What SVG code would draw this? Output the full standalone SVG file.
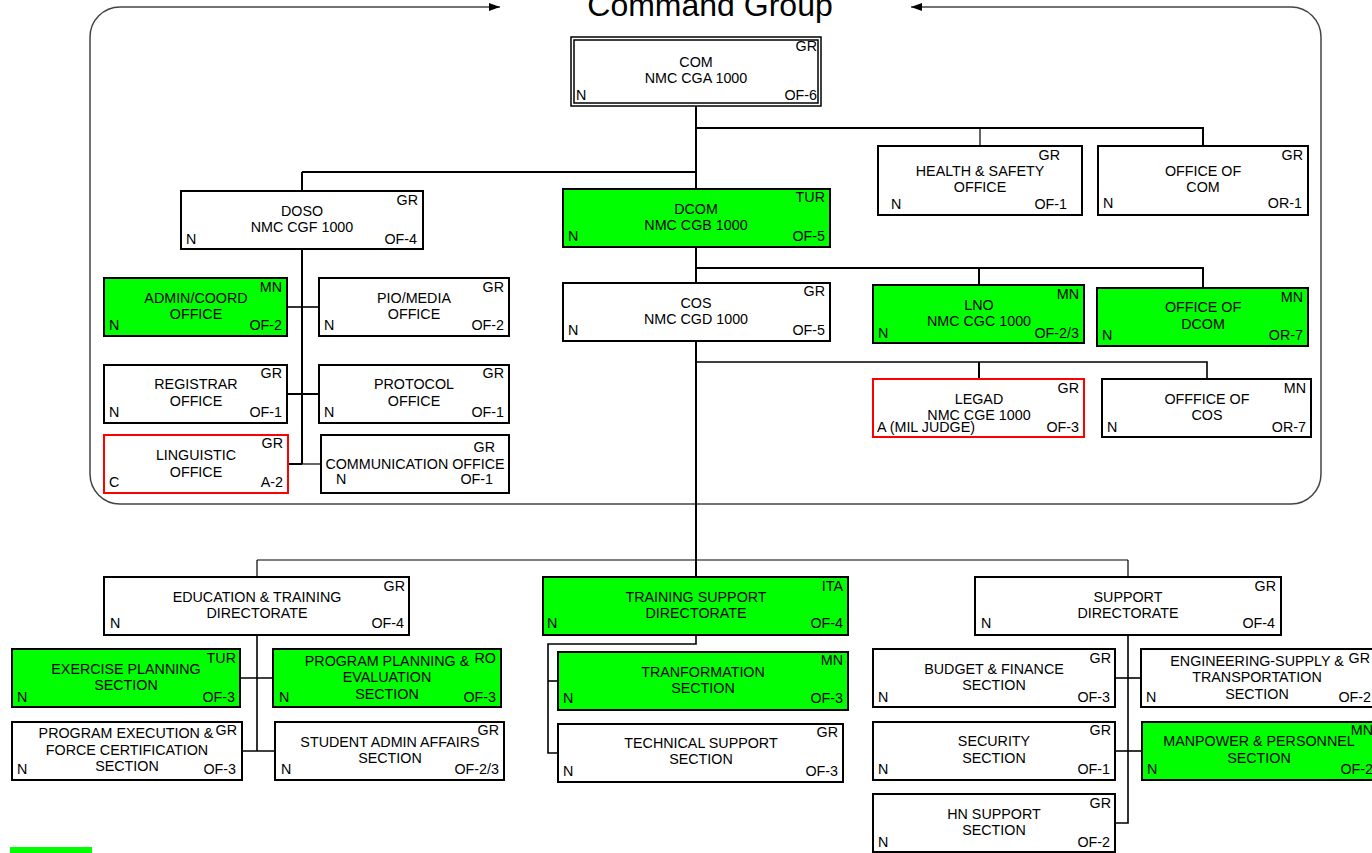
<svg xmlns="http://www.w3.org/2000/svg" width="1372" height="853" viewBox="0 0 1372 853">
<style>
  text { font-family: "Liberation Sans", Arial, Helvetica, sans-serif; font-size: 14.3px; fill: #000; }
  .c { text-anchor: middle; }
  .e { text-anchor: end; }
  .title { font-size: 32px; text-anchor: middle; }
  .box { fill: #fff; stroke: #000; stroke-width: 2; }
  .grn { fill: #00ff00; }
  .red { stroke: #ff0000; }
  .ln { fill: none; stroke: #000; stroke-width: 2; }
  .thin { stroke-width: 1.2; }
  .mid { stroke-width: 1.6; }
  .frame { fill: none; stroke: #444; stroke-width: 1.5; }
</style>
<defs>
  <marker id="arrow" markerUnits="userSpaceOnUse" markerWidth="12" markerHeight="10" refX="11" refY="4" orient="auto-start-reverse">
    <path d="M0,0 L11,4 L0,8 Z" fill="#000"/>
  </marker>
</defs>
<rect width="1372" height="853" fill="#fff"/>

<!-- Command Group frame with title arrows -->
<g id="command-group-frame">
  <path class="frame" d="M500,7 H120 A30,30 0 0 0 90,37 V474 A30,30 0 0 0 120,504 H1291 A30,30 0 0 0 1321,474 V37 A30,30 0 0 0 1291,7 H911" marker-start="url(#arrow)" marker-end="url(#arrow)"/>
  <text class="title" x="710" y="16">Command Group</text>
</g>

<!-- connectors -->
<g id="connectors">
  <path class="ln" d="M696,106 V189"/>
  <path class="ln" d="M302,172 H696"/>
  <path class="ln" d="M302,172 V191"/>
  <path class="ln" d="M696,128 H1203 V146"/>
  <path class="ln thin" d="M980,128 V146"/>
  <path class="ln" d="M696,247 V283"/>
  <path class="ln" d="M696,268 H1203 V288"/>
  <path class="ln" d="M979,268 V285"/>
  <path class="ln" d="M696,341 V577"/>
  <path class="ln mid" d="M696,362 H1207 V379"/>
  <path class="ln" d="M979,362 V379"/>
  <path class="ln" d="M302,249 V464"/>
  <path class="ln mid" d="M287,307 H319"/>
  <path class="ln" d="M287,394 H319"/>
  <path class="ln" d="M288,464 H302"/>
  <path class="ln thin" d="M302,464 H321"/>
  <path class="ln thin" d="M257,560 H1128"/>
  <path class="ln thin" d="M257,560 V577"/>
  <path class="ln thin" d="M1128,560 V577"/>
  <path class="ln mid" d="M257,635 V751"/>
  <path class="ln mid" d="M240,678 H273"/>
  <path class="ln mid" d="M242,751 H275"/>
  <path class="ln mid" d="M696,635 V644 H548 V753 H558"/>
  <path class="ln mid" d="M548,681 H558"/>
  <path class="ln mid" d="M1128,635 V823 H1115"/>
  <path class="ln mid" d="M1115,678 H1141"/>
  <path class="ln mid" d="M1115,751 H1142"/>
</g>

<g id="com">
  <rect x="571" y="37" width="250" height="69" fill="#fff" stroke="#000" stroke-width="1.5"/>
  <rect x="574" y="40" width="244" height="63" fill="none" stroke="#000" stroke-width="1.5"/>
  <text class="e" x="817" y="51">GR</text>
  <text class="c" x="696" y="67">COM</text>
  <text class="c" x="696" y="83">NMC CGA 1000</text>
  <text x="576" y="100">N</text>
  <text class="e" x="817" y="100">OF-6</text>
</g>

<g id="health-safety">
  <rect class="box" x="878" y="146" width="204" height="69"/>
  <text class="e" x="1060" y="160">GR</text>
  <text class="c" x="980" y="176">HEALTH &amp; SAFETY</text>
  <text class="c" x="980" y="192">OFFICE</text>
  <text x="891" y="209">N</text>
  <text class="e" x="1067" y="209">OF-1</text>
</g>

<g id="office-com">
  <rect class="box" x="1098" y="146" width="210" height="69"/>
  <text class="e" x="1303" y="160">GR</text>
  <text class="c" x="1203" y="176">OFFICE OF</text>
  <text class="c" x="1203" y="192">COM</text>
  <text x="1103" y="208">N</text>
  <text class="e" x="1302" y="208">OR-1</text>
</g>

<g id="doso">
  <rect class="box" x="181" y="191" width="242" height="58"/>
  <text class="e" x="418" y="205">GR</text>
  <text class="c" x="302" y="216">DOSO</text>
  <text class="c" x="302" y="232">NMC CGF 1000</text>
  <text x="186" y="244">N</text>
  <text class="e" x="417" y="244">OF-4</text>
</g>

<g id="dcom">
  <rect class="box grn" x="563" y="189" width="267" height="58"/>
  <text class="e" x="825" y="202">TUR</text>
  <text class="c" x="696" y="214">DCOM</text>
  <text class="c" x="696" y="230">NMC CGB 1000</text>
  <text x="568" y="241">N</text>
  <text class="e" x="825" y="241">OF-5</text>
</g>

<g id="cos">
  <rect class="box" x="563" y="283" width="267" height="58"/>
  <text class="e" x="825" y="296">GR</text>
  <text class="c" x="696" y="308">COS</text>
  <text class="c" x="696" y="324">NMC CGD 1000</text>
  <text x="568" y="335">N</text>
  <text class="e" x="825" y="335">OF-5</text>
</g>

<g id="lno">
  <rect class="box grn" x="873" y="285" width="211" height="58"/>
  <text class="e" x="1079" y="299">MN</text>
  <text class="c" x="979" y="310">LNO</text>
  <text class="c" x="979" y="326">NMC CGC 1000</text>
  <text x="878" y="338">N</text>
  <text class="e" x="1079" y="338">OF-2/3</text>
</g>

<g id="office-dcom">
  <rect class="box grn" x="1097" y="288" width="211" height="58"/>
  <text class="e" x="1303" y="302">MN</text>
  <text class="c" x="1203" y="312">OFFICE OF</text>
  <text class="c" x="1203" y="329">DCOM</text>
  <text x="1102" y="340">N</text>
  <text class="e" x="1303" y="340">OR-7</text>
</g>

<g id="legad">
  <rect class="box red" x="873" y="379" width="211" height="58"/>
  <text class="e" x="1079" y="393">GR</text>
  <text class="c" x="979" y="404">LEGAD</text>
  <text class="c" x="979" y="420">NMC CGE 1000</text>
  <text x="877" y="432">A (MIL JUDGE)</text>
  <text class="e" x="1079" y="432">OF-3</text>
</g>

<g id="office-cos">
  <rect class="box" x="1102" y="379" width="209" height="58"/>
  <text class="e" x="1306" y="393">MN</text>
  <text class="c" x="1207" y="404">OFFFICE OF</text>
  <text class="c" x="1207" y="420">COS</text>
  <text x="1107" y="432">N</text>
  <text class="e" x="1306" y="432">OR-7</text>
</g>

<g id="admin-coord">
  <rect class="box grn" x="104" y="278" width="183" height="58"/>
  <text class="e" x="282" y="292">MN</text>
  <text class="c" x="196" y="303">ADMIN/COORD</text>
  <text class="c" x="196" y="319">OFFICE</text>
  <text x="109" y="330">N</text>
  <text class="e" x="282" y="330">OF-2</text>
</g>

<g id="pio-media">
  <rect class="box" x="319" y="278" width="190" height="58"/>
  <text class="e" x="504" y="292">GR</text>
  <text class="c" x="414" y="303">PIO/MEDIA</text>
  <text class="c" x="414" y="319">OFFICE</text>
  <text x="324" y="330">N</text>
  <text class="e" x="504" y="330">OF-2</text>
</g>

<g id="registrar">
  <rect class="box" x="104" y="365" width="183" height="58"/>
  <text class="e" x="282" y="378">GR</text>
  <text class="c" x="196" y="389">REGISTRAR</text>
  <text class="c" x="196" y="406">OFFICE</text>
  <text x="109" y="417">N</text>
  <text class="e" x="282" y="417">OF-1</text>
</g>

<g id="protocol">
  <rect class="box" x="319" y="365" width="190" height="58"/>
  <text class="e" x="504" y="378">GR</text>
  <text class="c" x="414" y="389">PROTOCOL</text>
  <text class="c" x="414" y="406">OFFICE</text>
  <text x="324" y="417">N</text>
  <text class="e" x="504" y="417">OF-1</text>
</g>

<g id="linguistic">
  <rect class="box red" x="104" y="435" width="184" height="58"/>
  <text class="e" x="283" y="448">GR</text>
  <text class="c" x="196" y="460">LINGUISTIC</text>
  <text class="c" x="196" y="477">OFFICE</text>
  <text x="109" y="487">C</text>
  <text class="e" x="283" y="487">A-2</text>
</g>

<g id="communication">
  <rect class="box" x="321" y="435" width="188" height="58"/>
  <text class="e" x="495" y="452">GR</text>
  <text class="c" x="415" y="469">COMMUNICATION OFFICE</text>
  <text x="336" y="484">N</text>
  <text class="e" x="493" y="484">OF-1</text>
</g>

<g id="education-training">
  <rect class="box" x="104" y="577" width="305" height="58"/>
  <text class="e" x="405" y="591">GR</text>
  <text class="c" x="257" y="602">EDUCATION &amp; TRAINING</text>
  <text class="c" x="257" y="618">DIRECTORATE</text>
  <text x="110" y="628">N</text>
  <text class="e" x="404" y="628">OF-4</text>
</g>

<g id="training-support">
  <rect class="box grn" x="543" y="577" width="305" height="58"/>
  <text class="e" x="843" y="591">ITA</text>
  <text class="c" x="696" y="602">TRAINING SUPPORT</text>
  <text class="c" x="696" y="618">DIRECTORATE</text>
  <text x="547" y="628">N</text>
  <text class="e" x="843" y="628">OF-4</text>
</g>

<g id="support">
  <rect class="box" x="975" y="577" width="306" height="58"/>
  <text class="e" x="1276" y="591">GR</text>
  <text class="c" x="1128" y="602">SUPPORT</text>
  <text class="c" x="1128" y="618">DIRECTORATE</text>
  <text x="981" y="628">N</text>
  <text class="e" x="1275" y="628">OF-4</text>
</g>

<g id="exercise-planning">
  <rect class="box grn" x="12" y="649" width="228" height="58"/>
  <text class="e" x="236" y="663">TUR</text>
  <text class="c" x="126" y="674">EXERCISE PLANNING</text>
  <text class="c" x="126" y="690">SECTION</text>
  <text x="17" y="702">N</text>
  <text class="e" x="235" y="702">OF-3</text>
</g>

<g id="program-planning">
  <rect class="box grn" x="273" y="649" width="228" height="58"/>
  <text class="e" x="496" y="663">RO</text>
  <text class="c" x="387" y="666">PROGRAM PLANNING &amp;</text>
  <text class="c" x="387" y="682">EVALUATION</text>
  <text class="c" x="387" y="699">SECTION</text>
  <text x="279" y="702">N</text>
  <text class="e" x="496" y="702">OF-3</text>
</g>

<g id="program-execution">
  <rect class="box" x="12" y="722" width="230" height="58"/>
  <text class="c" x="126" y="738">PROGRAM EXECUTION &amp;</text>
  <text class="e" x="237" y="735">GR</text>
  <text class="c" x="127" y="755">FORCE CERTIFICATION</text>
  <text class="c" x="127" y="771">SECTION</text>
  <text x="17" y="774">N</text>
  <text class="e" x="236" y="774">OF-3</text>
</g>

<g id="student-admin">
  <rect class="box" x="275" y="722" width="229" height="58"/>
  <text class="c" x="390" y="747">STUDENT ADMIN AFFAIRS</text>
  <text class="e" x="499" y="735">GR</text>
  <text class="c" x="390" y="763">SECTION</text>
  <text x="281" y="774">N</text>
  <text class="e" x="499" y="774">OF-2/3</text>
</g>

<g id="tranformation">
  <rect class="box grn" x="558" y="652" width="290" height="58"/>
  <text class="e" x="843" y="665">MN</text>
  <text class="c" x="703" y="677">TRANFORMATION</text>
  <text class="c" x="703" y="693">SECTION</text>
  <text x="563" y="703">N</text>
  <text class="e" x="843" y="703">OF-3</text>
</g>

<g id="technical-support">
  <rect class="box" x="558" y="724" width="285" height="58"/>
  <text class="e" x="838" y="737">GR</text>
  <text class="c" x="701" y="748">TECHNICAL SUPPORT</text>
  <text class="c" x="701" y="764">SECTION</text>
  <text x="563" y="776">N</text>
  <text class="e" x="838" y="776">OF-3</text>
</g>

<g id="budget-finance">
  <rect class="box" x="873" y="649" width="242" height="58"/>
  <text class="e" x="1111" y="663">GR</text>
  <text class="c" x="994" y="674">BUDGET &amp; FINANCE</text>
  <text class="c" x="994" y="690">SECTION</text>
  <text x="878" y="702">N</text>
  <text class="e" x="1110" y="702">OF-3</text>
</g>

<g id="engineering-supply">
  <rect class="box" x="1141" y="649" width="240" height="58"/>
  <text class="c" x="1257" y="666">ENGINEERING-SUPPLY &amp;</text>
  <text class="e" x="1370" y="663">GR</text>
  <text class="c" x="1257" y="682">TRANSPORTATION</text>
  <text class="c" x="1257" y="699">SECTION</text>
  <text x="1146" y="702">N</text>
  <text class="e" x="1371" y="702">OF-2</text>
</g>

<g id="security">
  <rect class="box" x="873" y="722" width="242" height="58"/>
  <text class="e" x="1111" y="735">GR</text>
  <text class="c" x="994" y="746">SECURITY</text>
  <text class="c" x="994" y="763">SECTION</text>
  <text x="878" y="774">N</text>
  <text class="e" x="1110" y="774">OF-1</text>
</g>

<g id="manpower-personnel">
  <rect class="box grn" x="1142" y="722" width="240" height="58"/>
  <text class="c" x="1259" y="746">MANPOWER &amp; PERSONNEL</text>
  <text class="e" x="1373" y="735">MN</text>
  <text class="c" x="1259" y="763">SECTION</text>
  <text x="1147" y="774">N</text>
  <text class="e" x="1373" y="774">OF-2</text>
</g>

<g id="hn-support">
  <rect class="box" x="873" y="794" width="242" height="58"/>
  <text class="e" x="1111" y="808">GR</text>
  <text class="c" x="994" y="819">HN SUPPORT</text>
  <text class="c" x="994" y="835">SECTION</text>
  <text x="878" y="847">N</text>
  <text class="e" x="1110" y="847">OF-2</text>
</g>

<g id="legend-bar">
  <rect x="10" y="847" width="82" height="6" fill="#00ff00"/>
</g>
</svg>
